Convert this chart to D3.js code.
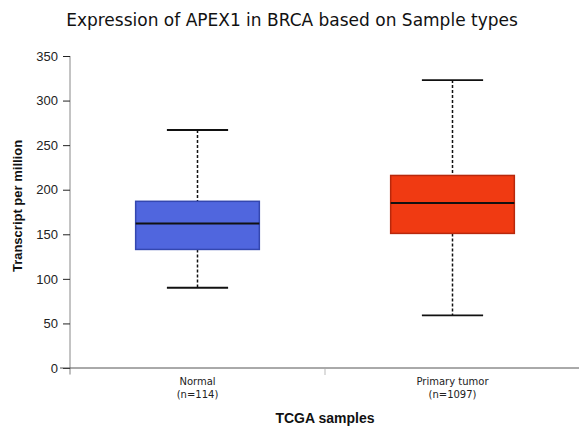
<!DOCTYPE html>
<html>
<head>
<meta charset="utf-8">
<script src="https://cdn.jsdelivr.net/npm/d3@7"></script>
<style>
  body { margin: 0; background: #fff; }
  svg { display: block; }
</style>
</head>
<body>
<div id="chart"></div>
<script>
// data
var groups = ["Normal", "Primary tumor"];
var groupCounts = ["(n=114)", "(n=1097)"];
var whiskerLow = [90, 59];
var quartile1 = [133, 151];
var medians = [162, 185];
var quartile3 = [187, 216];
var whiskerHigh = [267, 323];
var fills = ["#5066de", "#f03a12"];
var strokes = ["#3447b0", "#b8280c"];
var yTicks = [0, 50, 100, 150, 200, 250, 300, 350];

var width = 579, height = 426;
var svg = d3.select("#chart").append("svg")
  .attr("width", width).attr("height", height);

var x = d3.scaleBand().domain(groups).range([70, 580]).paddingInner(0).paddingOuter(0);
var y = d3.scaleLinear().domain([0, 350]).range([368, 56]);

// title
svg.append("text")
  .attr("x", 292).attr("y", 26)
  .attr("text-anchor", "middle")
  .style("font-family", "DejaVu Sans")
  .style("font-size", "17px")
  .attr("fill", "#111")
  .text("Expression of APEX1 in BRCA based on Sample types");

// y axis
var yAxis = svg.append("g").attr("transform", "translate(70,0)")
  .call(d3.axisLeft(y).tickValues(yTicks).tickSize(7).tickPadding(5));
yAxis.select(".domain").attr("stroke", "#888").attr("d", "M0,56V374");
yAxis.selectAll(".tick line").attr("stroke", "#222");
yAxis.selectAll(".tick text")
  .style("font-family", "Liberation Sans, Arial")
  .style("font-size", "13px")
  .attr("fill", "#222");

// x axis line and ticks
svg.append("line").attr("x1", 60).attr("x2", 579).attr("y1", 368).attr("y2", 368)
  .attr("stroke", "#555");
var bounds = [x(groups[0]), x(groups[1])];
svg.selectAll(".xtick").data(bounds).enter().append("line")
  .attr("x1", function(d) { return d; }).attr("x2", function(d) { return d; })
  .attr("y1", 369).attr("y2", 375)
  .attr("stroke", "#bbb");

var labels = svg.selectAll(".xlab").data(groups).enter().append("text")
  .attr("text-anchor", "middle")
  .style("font-family", "DejaVu Sans")
  .style("font-size", "10px")
  .attr("fill", "#222");
labels.append("tspan")
  .attr("x", function(d) { return x(d) + x.bandwidth() / 2; })
  .attr("y", 385)
  .text(function(d) { return d; });
labels.append("tspan")
  .attr("x", function(d) { return x(d) + x.bandwidth() / 2; })
  .attr("y", 398)
  .text(function(d, i) { return groupCounts[i]; });

// axis titles
svg.append("text")
  .attr("transform", "translate(22,206) rotate(-90)")
  .attr("text-anchor", "middle")
  .style("font-family", "Liberation Sans, Arial")
  .style("font-weight", "bold")
  .style("font-size", "13px")
  .attr("fill", "#111")
  .text("Transcript per million");

svg.append("text")
  .attr("x", 325).attr("y", 423)
  .attr("text-anchor", "middle")
  .style("font-family", "Liberation Sans, Arial")
  .style("font-weight", "bold")
  .style("font-size", "14px")
  .attr("fill", "#111")
  .text("TCGA samples");

// boxes
var boxW = x.bandwidth() * 0.485, capW = x.bandwidth() * 0.24;
groups.forEach(function(g, i) {
  var cx = x(g) + x.bandwidth() / 2;
  var grp = svg.append("g");
  // whiskers
  grp.append("line").attr("x1", cx).attr("x2", cx)
    .attr("y1", y(whiskerHigh[i])).attr("y2", y(quartile3[i]))
    .attr("stroke", "#111").attr("stroke-width", 1.5).attr("stroke-dasharray", "3,2");
  grp.append("line").attr("x1", cx).attr("x2", cx)
    .attr("y1", y(quartile1[i])).attr("y2", y(whiskerLow[i]))
    .attr("stroke", "#111").attr("stroke-width", 1.5).attr("stroke-dasharray", "3,2");
  [whiskerHigh[i], whiskerLow[i]].forEach(function(v) {
    grp.append("line").attr("x1", cx - capW / 2).attr("x2", cx + capW / 2)
      .attr("y1", y(v)).attr("y2", y(v))
      .attr("stroke", "#111").attr("stroke-width", 1.8);
  });
  // box
  grp.append("rect")
    .attr("x", cx - boxW / 2).attr("width", boxW)
    .attr("y", y(quartile3[i])).attr("height", y(quartile1[i]) - y(quartile3[i]))
    .attr("fill", fills[i]).attr("stroke", strokes[i]).attr("stroke-width", 1.5);
  // median
  grp.append("line").attr("x1", cx - boxW / 2).attr("x2", cx + boxW / 2)
    .attr("y1", y(medians[i])).attr("y2", y(medians[i]))
    .attr("stroke", "#111").attr("stroke-width", 2);
});
</script>
</body>
</html>
